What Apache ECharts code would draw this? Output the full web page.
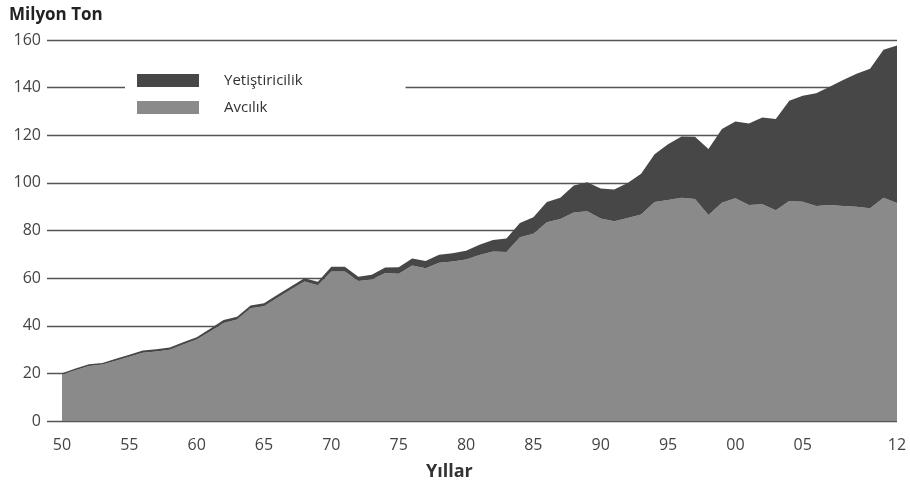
<!DOCTYPE html>
<html>
<head>
<meta charset="utf-8">
<script src="https://cdn.jsdelivr.net/npm/echarts@6/dist/echarts.min.js"></script>
<style>
  html, body { margin: 0; padding: 0; background: #fff; }
  #chart { width: 910px; height: 490px; }
</style>
</head>
<body>
<div id="chart"></div>
<script>
var chart = echarts.init(document.getElementById('chart'));

var years = ['1950', '1951', '1952', '1953', '1954', '1955', '1956', '1957', '1958', '1959',
             '1960', '1961', '1962', '1963', '1964', '1965', '1966', '1967', '1968', '1969',
             '1970', '1971', '1972', '1973', '1974', '1975', '1976', '1977', '1978', '1979',
             '1980', '1981', '1982', '1983', '1984', '1985', '1986', '1987', '1988', '1989',
             '1990', '1991', '1992', '1993', '1994', '1995', '1996', '1997', '1998', '1999',
             '2000', '2001', '2002', '2003', '2004', '2005', '2006', '2007', '2008', '2009',
             '2010', '2011', '2012'];

// Avcılık (capture), million tonnes
var avcilik = [19.5, 21.3, 23.1, 23.7, 25.3, 27.0, 28.7, 29.2, 29.9, 32.1,
               34.2, 37.6, 41.2, 42.6, 47.3, 48.2, 51.8, 55.2, 58.6, 57.0,
               62.8, 62.8, 58.8, 59.4, 62.2, 61.8, 65.3, 64.1, 66.5, 67.0,
               67.8, 69.7, 71.2, 71.0, 77.2, 78.6, 83.5, 84.8, 87.6, 88.1,
               85.0, 83.9, 85.2, 86.7, 92.0, 92.8, 93.8, 93.2, 86.5, 91.7,
               93.5, 90.7, 91.0, 88.5, 92.4, 92.1, 90.3, 90.7, 90.3, 90.0,
               89.3, 93.8, 91.6];

// Yetiştiricilik (aquaculture), million tonnes
var yetistiricilik = [0.6, 0.7, 0.7, 0.7, 0.8, 0.8, 0.9, 0.9, 1.0, 1.0,
                      1.0, 1.1, 1.2, 1.2, 1.2, 1.2, 1.2, 1.3, 1.4, 1.5,
                      2.0, 2.0, 1.8, 2.0, 2.3, 2.8, 2.9, 3.1, 3.3, 3.4,
                      3.7, 4.3, 4.8, 5.6, 6.0, 7.0, 8.5, 9.0, 11.3, 12.2,
                      12.6, 13.3, 14.8, 17.1, 20.0, 23.4, 25.7, 26.2, 27.7, 30.9,
                      32.3, 34.2, 36.5, 38.3, 42.1, 44.5, 47.3, 49.7, 52.9, 55.8,
                      58.6, 62.1, 66.1];

var xLabelYears = ['1950', '1955', '1960', '1965', '1970', '1975', '1980', '1985',
                   '1990', '1995', '2000', '2005', '2012'];

var fontFam = '"Open Sans", "Noto Sans", sans-serif';

var option = {
    backgroundColor: '#fff',
    animation: false,
    title: [
        {
            text: 'Milyon Ton',
            left: 4, top: 2,
            textStyle: { fontFamily: fontFam, fontSize: 17, fontWeight: 'bold', color: '#222' }
        },
        {
            text: 'Yıllar',
            left: 421, top: 458,
            textStyle: { fontFamily: fontFam, fontSize: 18, fontWeight: 'bold', color: '#333' }
        }
    ],
    legend: {
        orient: 'vertical',
        left: 125, top: 63,
        padding: [10, 103, 8, 12],
        backgroundColor: '#fff',
        itemWidth: 62, itemHeight: 13, itemGap: 12,
        icon: 'rect',
        data: ['Yetiştiricilik', 'Avcılık'],
        textStyle: { fontFamily: fontFam, fontSize: 15, color: '#333', padding: [0, 0, 0, 20] }
    },
    grid: [
        // data area
        { left: 62, right: 13, top: 40, bottom: 69 },
        // gridlines and y labels, a bit wider on the left
        { left: 47, right: 13, top: 40, bottom: 69 }
    ],
    xAxis: [
        {
            type: 'category',
            gridIndex: 0,
            data: years,
            boundaryGap: false,
            axisLine: { show: false },
            axisTick: { show: false },
            axisLabel: {
                interval: 0,
                margin: 16,
                fontFamily: fontFam, fontSize: 16, color: '#444',
                formatter: function (v) {
                    return xLabelYears.indexOf(v) >= 0 ? v.slice(2) : '';
                }
            }
        },
        {
            type: 'value',
            gridIndex: 1,
            show: false
        }
    ],
    yAxis: [
        {
            type: 'value',
            gridIndex: 0,
            min: 0, max: 160, interval: 20,
            show: false,
            splitLine: { show: false }
        },
        {
            type: 'value',
            gridIndex: 1,
            min: 0, max: 160, interval: 20,
            axisLine: { show: false },
            axisTick: { show: false },
            axisLabel: { margin: 6, fontFamily: fontFam, fontSize: 16, color: '#444' },
            splitLine: { lineStyle: { color: '#555', width: 1.3 } }
        }
    ],
    series: [
        {
            name: 'Avcılık',
            type: 'line',
            xAxisIndex: 0, yAxisIndex: 0,
            stack: 'toplam',
            showSymbol: false,
            lineStyle: { width: 0 },
            itemStyle: { color: '#8a8a8a' },
            areaStyle: { color: '#8a8a8a', opacity: 1 },
            data: avcilik
        },
        {
            name: 'Yetiştiricilik',
            type: 'line',
            xAxisIndex: 0, yAxisIndex: 0,
            stack: 'toplam',
            showSymbol: false,
            lineStyle: { width: 0 },
            itemStyle: { color: '#474747' },
            areaStyle: { color: '#474747', opacity: 1 },
            data: yetistiricilik
        }
    ]
};

chart.setOption(option);
</script>
</body>
</html>
